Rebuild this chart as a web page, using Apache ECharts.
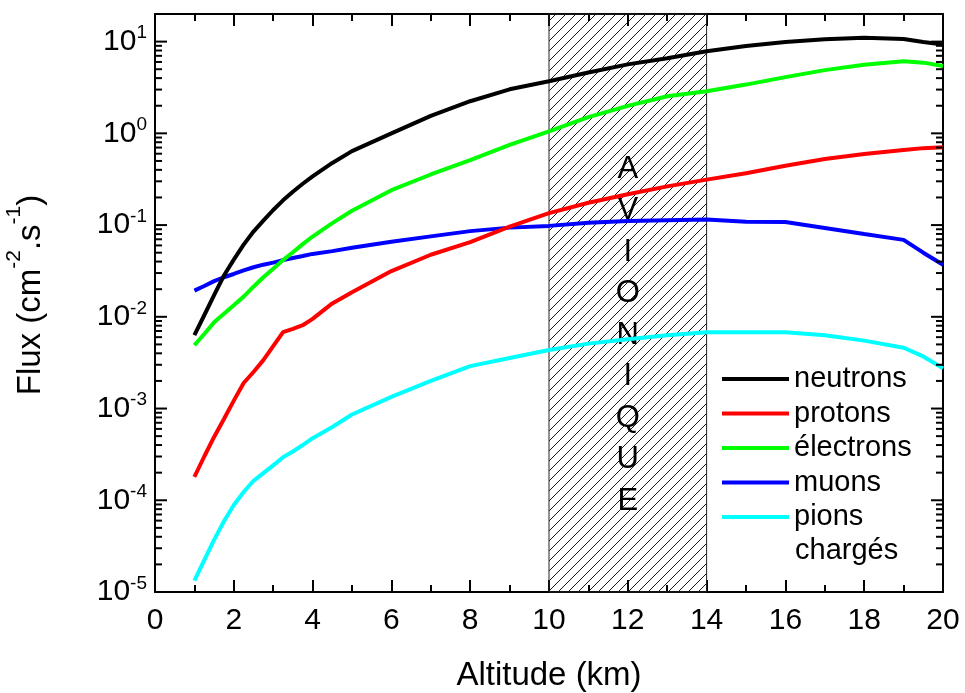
<!DOCTYPE html>
<html>
<head>
<meta charset="utf-8">
<script src="https://cdn.jsdelivr.net/npm/echarts@6/dist/echarts.min.js"></script>
<style>
html,body{margin:0;padding:0;background:#fff;}
#chart{width:965px;height:693px;}
</style>
</head>
<body>
<div id="chart"></div>
<script>
// ---- data ----
const altitudes = [1, 1.25, 1.5, 1.75, 2, 2.25, 2.5, 2.75, 3, 3.25, 3.5, 3.75, 4, 4.5, 5, 6, 7, 8, 9, 10, 11, 12, 13, 14, 15, 16, 17, 18, 19, 19.5, 20];
const neutrons  = [0.0063, 0.0104, 0.0172, 0.0282, 0.042, 0.0612, 0.085, 0.1117, 0.146, 0.186, 0.231, 0.282, 0.34, 0.476, 0.64, 1.0, 1.55, 2.24, 3.02, 3.7, 4.6, 5.65, 6.6, 7.85, 8.97, 9.9, 10.6, 11.0, 10.7, 9.9, 9.3];
const protons   = [1.8e-4, 3.0e-4, 4.9e-4, 7.7e-4, 1.22e-3, 1.9e-3, 2.5e-3, 3.37e-3, 4.8e-3, 6.8e-3, 7.4e-3, 8.1e-3, 9.5e-3, 0.014, 0.0185, 0.0315, 0.0475, 0.0653, 0.0964, 0.135, 0.175, 0.217, 0.264, 0.313, 0.367, 0.444, 0.526, 0.596, 0.66, 0.69, 0.705];
const electrons = [0.0049, 0.0065, 0.0087, 0.0108, 0.0134, 0.0166, 0.0213, 0.027, 0.0335, 0.0415, 0.0506, 0.062, 0.075, 0.105, 0.1435, 0.24, 0.356, 0.51, 0.75, 1.05, 1.5, 1.99, 2.54, 2.87, 3.4, 4.1, 4.89, 5.6, 6.1, 5.9, 5.41];
const muons     = [0.0193, 0.0217, 0.0245, 0.027, 0.0293, 0.032, 0.0347, 0.037, 0.039, 0.0415, 0.0437, 0.046, 0.0485, 0.052, 0.0565, 0.0658, 0.0753, 0.0859, 0.0938, 0.098, 0.106, 0.111, 0.113, 0.115, 0.109, 0.108, 0.093, 0.08, 0.069, 0.05, 0.037];
const pions     = [1.33e-5, 2.23e-5, 3.7e-5, 5.9e-5, 8.9e-5, 1.23e-4, 1.63e-4, 1.98e-4, 2.4e-4, 2.95e-4, 3.4e-4, 4.0e-4, 4.75e-4, 6.3e-4, 8.6e-4, 1.34e-3, 2.0e-3, 2.9e-3, 3.55e-3, 4.34e-3, 5.1e-3, 5.7e-3, 6.3e-3, 6.8e-3, 6.8e-3, 6.8e-3, 6.3e-3, 5.5e-3, 4.6e-3, 3.7e-3, 2.74e-3];
const seriesNames = ['neutrons', 'protons', 'électrons', 'muons', 'pions chargés'];
const seriesColors = ['#000000', '#ff0000', '#00ff00', '#0000ff', '#00ffff'];
const avioniqueRange = [10, 14];
const avioniqueText = 'AVIONIQUE';
const xTickLabels = ['0','2','4','6','8','10','12','14','16','18','20'];

const FONT = "'Liberation Sans', Arial, sans-serif";
const X_MIN = 0, X_MAX = 20;

// log-axis tick values for the frame: majors 10^n, minors k x 10^n
const majorLogTicks = [];
const minorLogTicks = [];
for (let n = -5; n <= 1; n++) {
  majorLogTicks.push(Math.pow(10, n));
  if (n < 1) for (let k = 2; k <= 9; k++) minorLogTicks.push(k * Math.pow(10, n));
}

// hatch pattern
const pc = document.createElement('canvas');
pc.width = 10; pc.height = 10;
const g = pc.getContext('2d');
g.strokeStyle = '#000'; g.lineWidth = 0.9;
g.beginPath();
g.moveTo(0, 10); g.lineTo(10, 0);
g.moveTo(-5, 5); g.lineTo(5, -5);
g.moveTo(5, 15); g.lineTo(15, 5);
g.stroke();

const allData = [neutrons, protons, electrons, muons, pions];
const lineSeries = allData.map((vals, i) => ({
  name: seriesNames[i],
  type: 'line',
  symbol: 'none',
  xAxisIndex: 0, yAxisIndex: 0,
  data: altitudes.map((a, j) => [a, vals[j]]),
  lineStyle: { color: seriesColors[i], width: 4 },
  itemStyle: { color: seriesColors[i] },
  z: 10 - i,
  silent: true
}));

lineSeries[0].markArea = {
  silent: true,
  itemStyle: { color: { image: pc, repeat: 'repeat' }, borderColor: '#222', borderWidth: 1, opacity: 1 },
  label: {
    show: true, position: 'inside', color: '#000', fontFamily: FONT, fontSize: 31,
    lineHeight: 41.5, offset: [0, 32],
    formatter: () => avioniqueText.split('').join('\n')
  },
  data: [[{ xAxis: avioniqueRange[0] }, { xAxis: avioniqueRange[1] }]]
};

function tickSeries(xv, vals, len, dir) {
  return {
    type: 'scatter', xAxisIndex: 0, yAxisIndex: 0,
    silent: true, clip: false, z: 20,
    symbol: 'rect', symbolSize: [len, 2], symbolOffset: [dir * len / 2, 0],
    itemStyle: { color: '#000', opacity: 1 },
    data: vals.map(v => [xv, v])
  };
}

function logLabel(v) {
  const l = Math.log10(v);
  const e = Math.round(l);
  if (Math.abs(l - e) > 1e-6) return '';
  return '{b|10}{s|' + e + '}';
}

const chart = echarts.init(document.getElementById('chart'), null, { renderer: 'canvas' });
chart.setOption({
  animation: false,
  backgroundColor: '#fff',
  textStyle: { fontFamily: FONT },
  grid: { left: 155, right: 22, top: 14, bottom: 101, outerBoundsMode: 'none', containLabel: false },
  legend: {
    data: seriesNames,
    orient: 'vertical',
    left: 722, top: 362,
    padding: 0,
    icon: 'rect',
    itemWidth: 67, itemHeight: 4, itemGap: 0.5,
    textStyle: { fontSize: 29, lineHeight: 34, color: '#000', fontFamily: FONT },
    formatter: n => n === 'pions chargés' ? 'pions' : n,
    selectedMode: false
  },
  graphic: [{
    type: 'text', x: 795, y: 551, silent: true,
    style: { text: 'chargés', fontSize: 29, fontFamily: FONT, fill: '#000', verticalAlign: 'middle' }
  }],
  xAxis: [{
    type: 'value', min: X_MIN, max: X_MAX, interval: 2, position: 'bottom',
    name: 'Altitude (km)', nameLocation: 'middle', nameGap: 67,
    nameTextStyle: { fontSize: 33, color: '#000', fontFamily: FONT },
    axisLine: { show: true, onZero: false, lineStyle: { color: '#000', width: 2 } },
    axisTick: { show: true, inside: true, length: 12, lineStyle: { color: '#000', width: 2 } },
    minorTick: { show: true, splitNumber: 2, length: 7, lineStyle: { color: '#000', width: 2 } },
    axisLabel: { fontSize: 30, color: '#000', margin: 14, fontFamily: FONT,
      formatter: (v) => xTickLabels[Math.round(v / 2)] },
    splitLine: { show: false }
  }, {
    type: 'value', min: X_MIN, max: X_MAX, interval: 2, position: 'top',
    axisLine: { show: true, onZero: false, lineStyle: { color: '#000', width: 2 } },
    axisTick: { show: true, inside: true, length: 12, lineStyle: { color: '#000', width: 2 } },
    minorTick: { show: true, splitNumber: 2, length: 7, lineStyle: { color: '#000', width: 2 } },
    axisLabel: { show: false },
    splitLine: { show: false }
  }],
  yAxis: [{
    type: 'log', logBase: 10, min: 1e-5, max: 20, position: 'left',
    name: 'Flux (cm{s|-2}.s{s|-1})', nameLocation: 'middle', nameRotate: 90, nameGap: 97,
    nameTextStyle: {
      fontSize: 33, color: '#000', fontFamily: FONT, padding: [0, 0, 0, 16],
      rich: { s: { fontSize: 21, fontFamily: FONT, color: '#000', padding: [0, 0, 33, 0] } }
    },
    axisLine: { show: true, onZero: false, lineStyle: { color: '#000', width: 2 } },
    axisTick: { show: false },
    axisLabel: {
      margin: 8, color: '#000', formatter: logLabel,
      rich: {
        b: { fontSize: 30, fontFamily: FONT, color: '#000' },
        s: { fontSize: 19, fontFamily: FONT, color: '#000', padding: [0, 0, 17, 0] }
      }
    },
    splitLine: { show: false }
  }, {
    type: 'log', logBase: 10, min: 1e-5, max: 20, position: 'right',
    axisLine: { show: true, onZero: false, lineStyle: { color: '#000', width: 2 } },
    axisTick: { show: false },
    axisLabel: { show: false },
    splitLine: { show: false }
  }],
  series: lineSeries.concat([
    tickSeries(X_MIN, majorLogTicks, 12, 1),
    tickSeries(X_MIN, minorLogTicks, 7, 1),
    tickSeries(X_MAX, majorLogTicks, 12, -1),
    tickSeries(X_MAX, minorLogTicks, 7, -1)
  ])
});
</script>
</body>
</html>
